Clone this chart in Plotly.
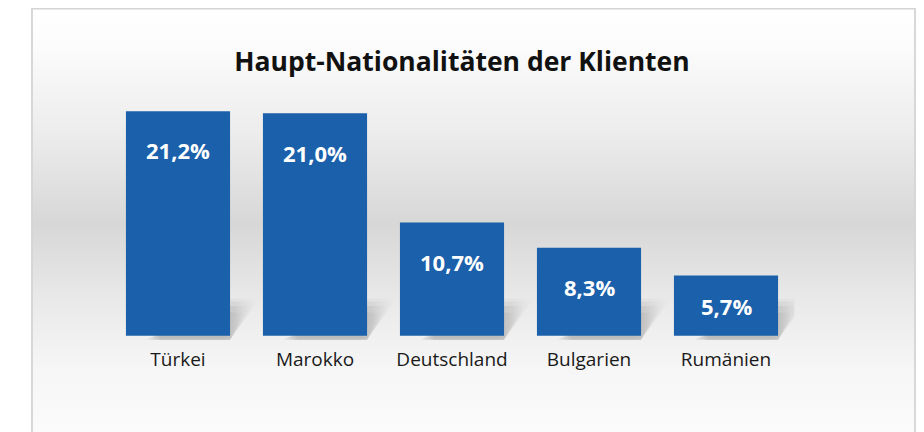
import plotly.graph_objects as go

categories = ["Türkei", "Marokko", "Deutschland", "Bulgarien", "Rumänien"]
values = [21.2, 21.0, 10.7, 8.3, 5.7]
value_labels = ["21,2%", "21,0%", "10,7%", "8,3%", "5,7%"]
title_text = "Haupt-Nationalitäten der Klienten"

BAR_COLOR = "#1b60aa"
FONT = "Open Sans"
OFF = 8                      # page body margin
W, H = 924 - OFF, 432 - OFF  # figure size that fills the window

fig = go.Figure()

# ---- panel background (pixel space on xaxis/yaxis) ----
px_top, px_bot = 7 - OFF, 432 - OFF
px_left, px_right = 32 - OFF, 915 - OFF
bg_scale = [
    [0.00, "#ffffff"],
    [0.10, "#fbfbfb"],
    [0.30, "#ececec"],
    [0.51, "#d7d7d7"],
    [0.70, "#eaeaea"],
    [0.85, "#f6f6f6"],
    [1.00, "#fbfbfb"],
]
fig.add_trace(go.Scatter(
    x=[px_left, px_right, px_right, px_left, px_left],
    y=[px_top, px_top, px_bot + 5, px_bot + 5, px_top],
    mode="lines", line=dict(width=0), fill="toself",
    fillgradient=dict(type="vertical", colorscale=bg_scale, start=px_top, stop=px_bot),
    hoverinfo="skip", showlegend=False, xaxis="x", yaxis="y"))
fig.add_trace(go.Scatter(
    x=[px_left, px_left, px_right, px_right], y=[H + 10, 0.6, 0.6, H + 10],
    mode="lines", line=dict(width=1.8, color="#d4d4d4"),
    hoverinfo="skip", showlegend=False, xaxis="x", yaxis="y"))

# ---- shadows (data space on x2/y2, drawn beneath bars on x3/y3) ----
half = 0.38
for i, v in enumerate(values):
    right = i + half
    for dx, dy, a in [(0.22, 3.5, 0.035), (0.19, 3.2, 0.05), (0.15, 2.8, 0.07), (0.10, 2.2, 0.08)]:
        fig.add_trace(go.Scatter(
            x=[right - 0.62, right, right + dx, right - 0.02, right - 0.62],
            y=[-0.38, -0.38, dy, dy, -0.38],
            mode="lines", line=dict(width=0), fill="toself",
            fillgradient=dict(type="horizontal",
                              colorscale=[[0, "rgba(0,0,0,0)"], [0.15, f"rgba(0,0,0,{a})"],
                                          [0.8, f"rgba(0,0,0,{a})"], [1, "rgba(0,0,0,0)"]]),
            hoverinfo="skip", showlegend=False, xaxis="x2", yaxis="y2"))

# ---- bars ----
fig.add_trace(go.Bar(
    x=list(range(len(categories))), y=values, width=2 * half,
    marker=dict(color=BAR_COLOR, line=dict(width=0)),
    hoverinfo="skip", showlegend=False, xaxis="x3", yaxis="y3"))

for i, (v, lab) in enumerate(zip(values, value_labels)):
    fig.add_annotation(x=i, y=v - min(3.7, 0.5 * v), xref="x3", yref="y3",
                       text=lab, showarrow=False, yanchor="middle",
                       font=dict(family=FONT, size=22, color="white", weight="bold"))

xdom = [(109.5 - OFF) / W, (794.5 - OFF) / W]
ydom = [(432 - 340) / H, (432 - 71) / H]
xr = [-0.5, 4.5]
yr = [-0.4, 25]

fig.update_layout(
    width=W, height=H,
    margin=dict(l=0, r=0, t=0, b=0),
    paper_bgcolor="white", plot_bgcolor="rgba(0,0,0,0)",
    title=dict(text=title_text, x=(462 - OFF) / W, xanchor="center",
               y=1 - (62 - OFF) / H, yanchor="middle",
               font=dict(family=FONT, size=26.5, color="#111111", weight="bold")),
    xaxis=dict(range=[0, W], domain=[0, 1], visible=False, fixedrange=True),
    yaxis=dict(range=[H, 0], domain=[0, 1], visible=False, fixedrange=True),
    xaxis2=dict(range=xr, domain=xdom, anchor="y2", visible=False),
    yaxis2=dict(range=yr, domain=ydom, anchor="x2", visible=False),
    xaxis3=dict(range=xr, domain=xdom, anchor="y3",
                tickmode="array", tickvals=list(range(len(categories))), ticktext=categories,
                showgrid=False, zeroline=False, showline=False, ticks="",
                tickfont=dict(family=FONT, size=19, color="#1a1a1a"), ticklabelstandoff=6),
    yaxis3=dict(range=yr, domain=ydom, anchor="x3",
                visible=False, showgrid=False, zeroline=False),
)

fig.write_html("out.html")
